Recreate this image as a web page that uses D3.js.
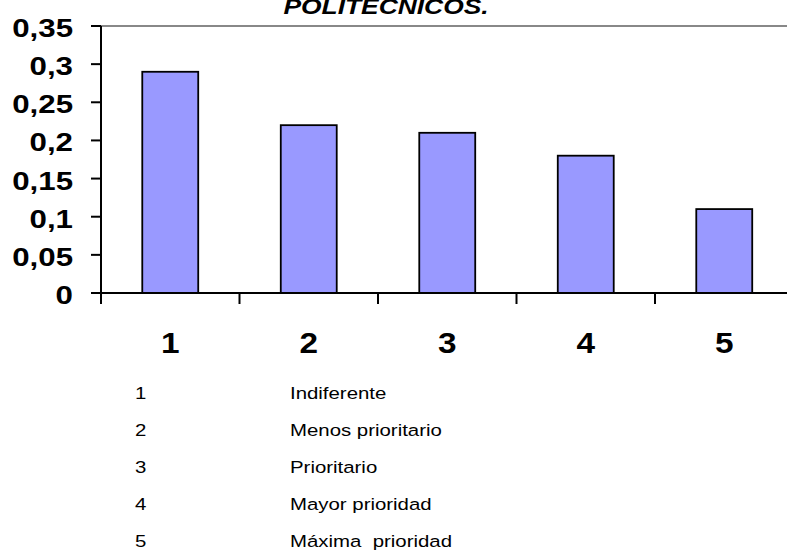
<!DOCTYPE html>
<html>
<head>
<meta charset="utf-8">
<script src="https://cdn.jsdelivr.net/npm/d3@7"></script>
<style>
body { margin: 0; background: #fff; }
svg { display: block; font-family: Arial, "Liberation Sans", sans-serif; }
text { white-space: pre; }
</style>
</head>
<body>
<div class="chart"></div>
<script>
const categories = ["1", "2", "3", "4", "5"];
const values = [0.29, 0.22, 0.21, 0.18, 0.11];
const yTicks = [0, 0.05, 0.1, 0.15, 0.2, 0.25, 0.3, 0.35];
const yTickLabels = ["0", "0,05", "0,1", "0,15", "0,2", "0,25", "0,3", "0,35"];
const legendKeys = ["1", "2", "3", "4", "5"];
const legendNames = ["Indiferente", "Menos prioritario", "Prioritario", "Mayor prioridad", "Máxima  prioridad"];
const titleText = "POLITECNICOS.";

const W = 787, H = 552;
const x0 = 101, x1 = 793.5; // plot runs past the right edge

var svg = d3.select(".chart").append("svg")
    .attr("width", W)
    .attr("height", H);

var xBand = d3.scaleBand() //bars
    .domain(categories)
    .range([x0, x1])
    .paddingInner(0.596)
    .paddingOuter(0.298);
var xStep = d3.scaleBand() //category boundaries for ticks
    .domain(categories)
    .range([x0, x1]);
var yScale = d3.scaleLinear()
    .domain([0, 0.35])
    .range([293, 26]);

function stretchedText(x, y, txt, size, anchor, weight, style, sx) {
    return svg.append("text")
        .attr("transform", `translate(${x},${y}) scale(${sx || 1.2},1)`)
        .attr("text-anchor", anchor)
        .attr("font-size", size)
        .attr("font-weight", weight || "normal")
        .attr("font-style", style || "normal")
        .attr("fill", "#000")
        .text(txt);
}

// title (cut off at the top, as in the picture)
stretchedText(386, 14, titleText, 22, "middle", "bold", "italic", 1.2);

// gray top border of plot area
svg.append("line")
    .attr("x1", x0).attr("x2", W)
    .attr("y1", yScale(0.35)).attr("y2", yScale(0.35))
    .attr("stroke", "#888").attr("stroke-width", 2);

// bars
svg.selectAll("rect.bar")
    .data(values)
    .enter()
    .append("rect")
    .attr("class", "bar")
    .attr("x", (d, i) => xBand(categories[i]))
    .attr("y", d => yScale(d))
    .attr("width", xBand.bandwidth())
    .attr("height", d => yScale(0) - yScale(d))
    .attr("fill", "#9999ff")
    .attr("stroke", "#000")
    .attr("stroke-width", 1.8);

// y axis
svg.append("line")
    .attr("x1", x0).attr("x2", x0)
    .attr("y1", yScale(0.35)).attr("y2", yScale(0))
    .attr("stroke", "#000").attr("stroke-width", 2);
yTicks.forEach(function(t, i) {
    svg.append("line")
        .attr("x1", x0 - 10).attr("x2", x0)
        .attr("y1", yScale(t)).attr("y2", yScale(t))
        .attr("stroke", "#000").attr("stroke-width", 2);
    stretchedText(73, yScale(t) + 11, yTickLabels[i], 25, "end", "bold", "normal", 1.25);
});

// x axis
svg.append("line")
    .attr("x1", x0 - 10).attr("x2", W)
    .attr("y1", yScale(0)).attr("y2", yScale(0))
    .attr("stroke", "#000").attr("stroke-width", 2);
categories.forEach(function(c) {
    svg.append("line")
        .attr("x1", xStep(c)).attr("x2", xStep(c))
        .attr("y1", yScale(0)).attr("y2", yScale(0) + 11)
        .attr("stroke", "#000").attr("stroke-width", 2);
    stretchedText(xStep(c) + xStep.bandwidth() / 2, 353, c, 29, "middle", "bold", "normal", 1.15);
});

// legend table below
legendKeys.forEach(function(k, i) {
    var y = 399 + i * 37;
    stretchedText(135, y, k, 17, "start");
    stretchedText(290, y, legendNames[i], 17, "start");
});
</script>
</body>
</html>
